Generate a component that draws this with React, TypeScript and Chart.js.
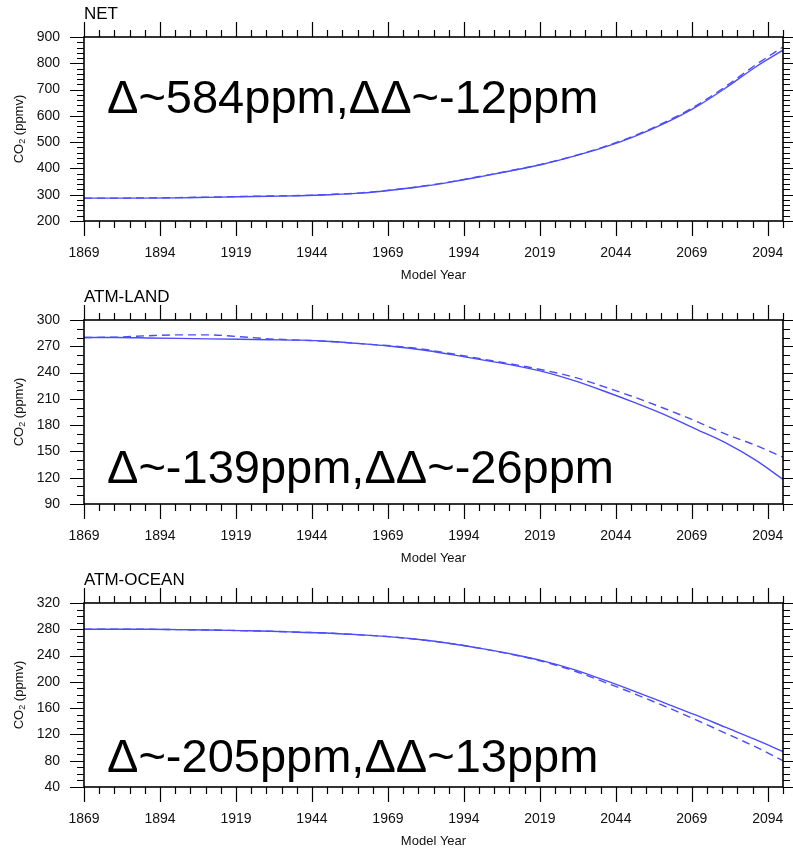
import React, { useEffect, useRef } from 'react';
import { Chart, registerables } from 'chart.js';

Chart.register(...registerables);

// ---- data ----
const years = [1869, 1880, 1890, 1900, 1910, 1920, 1930, 1940, 1950, 1960, 1970, 1980, 1990, 2000, 2010, 2020, 2030, 2040, 2050, 2060, 2070, 2080, 2090, 2099];
const xTickYears = [1869, 1894, 1919, 1944, 1969, 1994, 2019, 2044, 2069, 2094];

const netSolid = [287, 287, 287, 288, 290, 292, 294, 296, 300, 306, 317, 331, 349, 370, 392, 416, 446, 480, 521, 571, 631, 705, 786, 850];
const netDashed = [287, 287, 288, 289, 291, 293, 295, 297, 301, 307, 318, 332, 350, 371, 393, 417, 447, 482, 524, 575, 636, 711, 794, 862];

const landSolid = [280, 280, 279.5, 279, 278.5, 278, 277.5, 277, 275.5, 273, 270, 266, 260.5, 254.5, 248.5, 241, 231, 219, 206, 192, 176, 160, 140, 118];
const landDashed = [280, 280.5, 282, 283, 283, 281, 278.5, 277, 275.5, 273, 270.5, 267, 261.5, 255.5, 249.5, 243, 235, 224, 212, 199, 185, 170, 157, 143.5];

const oceanSolid = [280, 280, 280, 279.5, 279, 278, 277, 275.5, 274, 271.5, 268.5, 264, 258, 250.5, 242, 232, 219, 203, 186, 168, 150, 131, 112, 94];
const oceanDashed = [280, 280, 280, 279.5, 279, 278, 277, 275.5, 274, 271.5, 268.5, 264, 258, 250.5, 241.5, 231, 217, 200, 182, 163, 143, 122, 101, 80];

const panelTitles = ['NET', 'ATM-LAND', 'ATM-OCEAN'];
const annotationTexts = ['Δ~584ppm,ΔΔ~-12ppm', 'Δ~-139ppm,ΔΔ~-26ppm', 'Δ~-205ppm,ΔΔ~13ppm'];
const xAxisTitle = 'Model Year';

// y-axis ranges: [min, max, major step, minor step]
const yRanges = [
  [200, 900, 100, 20],
  [90, 300, 30, 10],
  [40, 320, 40, 10],
];

// ---- styling / layout ----
const FONT = '"Liberation Sans", Arial, Helvetica, sans-serif';
const BLUE = '#4c4cff';
const CANVAS_W = 793;
const CANVAS_H = 283;
const annotationBaselines = [113, 200, 206];

const seriesByPanel = [
  [netSolid, netDashed],
  [landSolid, landDashed],
  [oceanSolid, oceanDashed],
];

function makeFramePlugin(idx: number) {
  const [ymin, ymax, ystep, yminor] = yRanges[idx];
  return {
    id: 'frame' + idx,
    afterDraw(chart: any) {
      const { ctx, chartArea } = chart;
      const { left, right, top, bottom } = chartArea;
      const xs = chart.scales.x;
      const ys = chart.scales.y;
      ctx.save();
      ctx.strokeStyle = '#000';
      // tick marks
      ctx.lineWidth = 1.2;
      ctx.beginPath();
      const xMin = xs.min, xMax = xs.max;
      for (let v = 1869; v <= xMax + 1e-6; v += 5) {
        const px = Math.round(xs.getPixelForValue(v)) + 0.5;
        const major = xTickYears.includes(v);
        const len = major ? 15 : 7;
        if (v < xMin) continue;
        ctx.moveTo(px, bottom);
        ctx.lineTo(px, bottom + len);
        ctx.moveTo(px, top);
        ctx.lineTo(px, top - len);
      }
      for (let v = ymin; v <= ymax + 1e-6; v += yminor) {
        const py = Math.round(ys.getPixelForValue(v)) + 0.5;
        const major = Math.abs(((v - ymin) / ystep) - Math.round((v - ymin) / ystep)) < 1e-6;
        const len = major ? 14 : 7;
        ctx.moveTo(left, py);
        ctx.lineTo(left - len, py);
        ctx.moveTo(right, py);
        ctx.lineTo(right + len, py);
      }
      ctx.stroke();
      // frame
      ctx.lineWidth = 1.6;
      ctx.strokeRect(left, top, right - left, bottom - top);

      // panel title
      ctx.fillStyle = '#000';
      ctx.font = `17px ${FONT}`;
      ctx.textAlign = 'left';
      ctx.textBaseline = 'alphabetic';
      ctx.fillText(panelTitles[idx], left, 19);

      // y-axis title with subscript
      ctx.save();
      ctx.translate(19, (top + bottom) / 2);
      ctx.rotate(-Math.PI / 2);
      ctx.fillStyle = '#111';
      const big = `13px ${FONT}`;
      const small = `9px ${FONT}`;
      ctx.font = big;
      const w1 = ctx.measureText('CO').width;
      const w3 = ctx.measureText(' (ppmv)').width;
      ctx.font = small;
      const w2 = ctx.measureText('2').width;
      const total = w1 + w2 + w3;
      let x0 = -total / 2;
      ctx.textBaseline = 'middle';
      ctx.font = big;
      ctx.fillText('CO', x0, 0);
      x0 += w1;
      ctx.font = small;
      ctx.fillText('2', x0, 4);
      x0 += w2;
      ctx.font = big;
      ctx.fillText(' (ppmv)', x0, 0);
      ctx.restore();

      // big annotation
      ctx.fillStyle = '#000';
      ctx.font = `47px ${FONT}`;
      ctx.textAlign = 'left';
      ctx.textBaseline = 'alphabetic';
      ctx.fillText(annotationTexts[idx], 107, annotationBaselines[idx]);
      ctx.restore();
    },
  };
}

function Panel({ idx }: { idx: number }) {
  const ref = useRef<HTMLCanvasElement>(null);
  useEffect(() => {
    const [ymin, ymax, ystep] = yRanges[idx];
    const [solid, dashed] = seriesByPanel[idx];
    const tickFont = { family: FONT, size: 14 };
    const chart = new Chart(ref.current as HTMLCanvasElement, {
      type: 'line',
      data: {
        datasets: [
          {
            data: years.map((x, i) => ({ x, y: solid[i] })),
            borderColor: BLUE,
            borderWidth: 1.4,
            pointRadius: 0,
            cubicInterpolationMode: 'monotone',
            fill: false,
          },
          {
            data: years.map((x, i) => ({ x, y: dashed[i] })),
            borderColor: BLUE,
            borderWidth: 1.4,
            borderDash: [8, 5],
            pointRadius: 0,
            cubicInterpolationMode: 'monotone',
            fill: false,
          },
        ],
      },
      options: {
        animation: false,
        responsive: false,
        events: [],
        layout: { padding: { top: 37, right: 10, left: 0, bottom: 0 } },
        plugins: { legend: { display: false }, tooltip: { enabled: false } },
        scales: {
          x: {
            type: 'linear',
            min: 1869,
            max: 2099,
            afterBuildTicks: (s: any) => {
              s.ticks = xTickYears.map((v) => ({ value: v }));
            },
            afterFit: (s: any) => {
              s.height = 62;
            },
            grid: { display: true, drawOnChartArea: false, color: 'rgba(0,0,0,0)', tickLength: 15 },
            border: { display: false },
            ticks: {
              padding: 9,
              font: tickFont,
              color: '#111',
              maxRotation: 0,
              autoSkip: false,
              callback: (v: any) => String(v),
            },
            title: {
              display: true,
              text: xAxisTitle,
              font: { family: FONT, size: 13 },
              color: '#111',
              padding: { top: 0, bottom: 0 },
            },
          },
          y: {
            type: 'linear',
            min: ymin,
            max: ymax,
            afterFit: (s: any) => {
              s.width = 84;
            },
            grid: { display: true, drawOnChartArea: false, color: 'rgba(0,0,0,0)', tickLength: 14 },
            border: { display: false },
            ticks: {
              stepSize: ystep,
              padding: 10,
              font: tickFont,
              color: '#111',
              callback: (v: any) => String(v),
            },
          },
        },
      } as any,
      plugins: [makeFramePlugin(idx)],
    });
    return () => chart.destroy();
  }, [idx]);
  return (
    <canvas
      ref={ref}
      width={CANVAS_W}
      height={CANVAS_H}
      style={{ display: 'block', width: CANVAS_W, height: CANVAS_H }}
    />
  );
}

export default function App() {
  return (
    <div style={{ position: 'absolute', left: 0, top: 0, width: CANVAS_W, height: 851, background: '#fff' }}>
      <Panel idx={0} />
      <Panel idx={1} />
      <Panel idx={2} />
    </div>
  );
}
